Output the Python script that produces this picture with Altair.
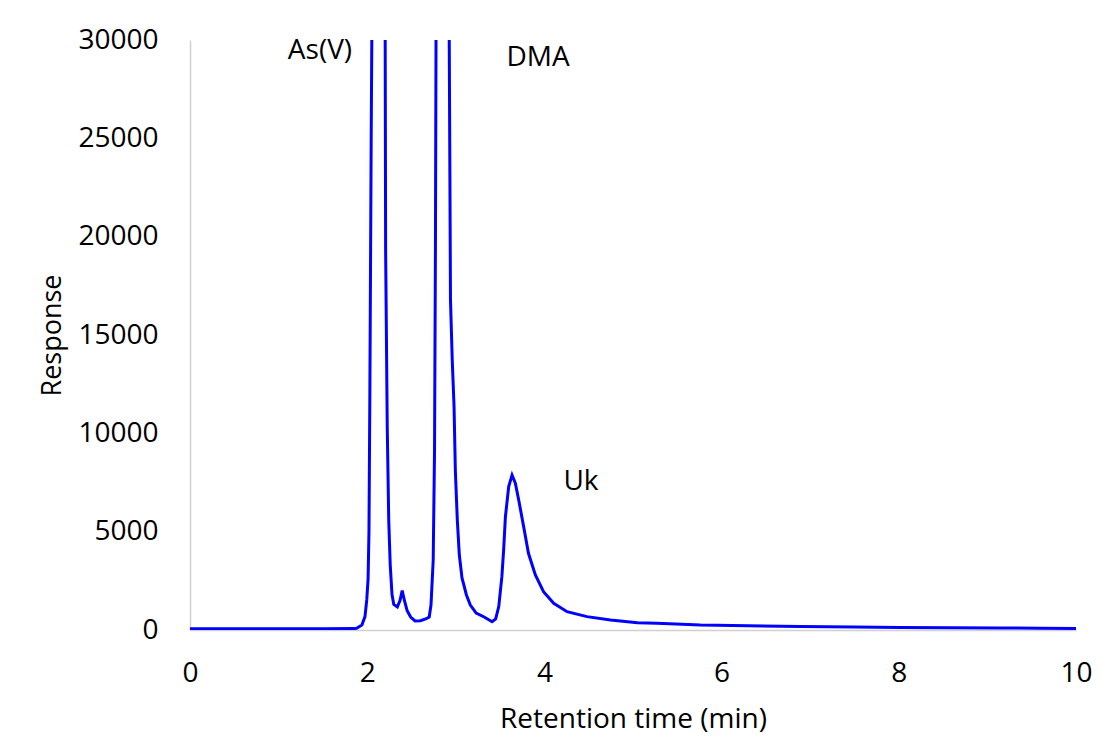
import altair as alt
import pandas as pd

# Retention time (min) and detector response
time_min = [0.0, 0.5, 1.0, 1.5, 1.85, 1.88, 1.94, 1.975, 1.995, 2.01, 2.02, 2.03, 2.045, 2.055, 2.12,
            2.195, 2.203, 2.208, 2.226, 2.243, 2.26, 2.28, 2.30, 2.34, 2.37, 2.395, 2.42, 2.45, 2.49,
            2.54, 2.60, 2.66, 2.70, 2.72, 2.745, 2.76, 2.77, 2.778, 2.85, 2.92, 2.926, 2.94, 2.96,
            2.98, 2.995, 3.017, 3.04, 3.07, 3.12, 3.164, 3.23, 3.32, 3.41, 3.45, 3.485, 3.52, 3.54,
            3.56, 3.597, 3.635, 3.672, 3.71, 3.766, 3.82, 3.898, 3.99, 4.105, 4.256, 4.48, 4.746,
            5.05, 5.27, 5.76, 6.3, 6.89, 7.5, 8.02, 8.6, 9.15, 9.6, 10.0]
response = [60, 60, 60, 60, 70, 90, 250, 680, 1530, 2600, 5000, 12000, 25000, 32000, 70000,
            32000, 30000, 19300, 10400, 5600, 3300, 1800, 1300, 1170, 1500, 2000, 1500, 1000, 660,
            460, 470, 560, 660, 1270, 3560, 9150, 19300, 32000, 70000, 32000, 30000, 16800, 13700,
            11400, 8100, 5600, 3800, 2650, 1780, 1270, 860, 660, 420, 560, 1190, 2710, 4070,
            5760, 7290, 7880, 7470, 6610, 5250, 3900, 2800, 1950, 1360, 930, 680, 510,
            370, 340, 250, 210, 180, 150, 130, 115, 100, 90, 80]

label_text = ["As(V)", "DMA", "Uk"]
label_time = [1.467, 3.928, 4.413]
label_resp = [29440, 29085, 7525]

x_ticks = [0, 2, 4, 6, 8, 10]
y_ticks = [0, 5000, 10000, 15000, 20000, 25000, 30000]

FONT = "Open Sans"

df = pd.DataFrame({"t": time_min, "r": response})
lab = pd.DataFrame({"label": label_text, "t": label_time, "r": label_resp})

x_scale = alt.Scale(domain=[0, 10], nice=False, zero=False)
y_scale = alt.Scale(domain=[0, 30000], nice=False)

line = alt.Chart(df).mark_line(color="#0000ff", strokeWidth=3, clip=True).encode(
    x=alt.X("t:Q", scale=x_scale,
            axis=alt.Axis(title="Retention time (min)", values=x_ticks, format="d", ticks=False,
                          grid=False, labelFlush=False,
                          domainColor="#d0d0d0", domainWidth=1.5, labelPadding=29,
                          labelFontSize=28, labelFont=FONT, labelColor="#000000",
                          titleFontSize=28, titleFont=FONT, titleFontWeight="normal",
                          titleColor="#000000", titleY=89, titleBaseline="middle")),
    y=alt.Y("r:Q", scale=y_scale,
            axis=alt.Axis(title="Response", values=y_ticks, format="d", ticks=False, grid=False,
                          labelFlush=False,
                          domainColor="#d0d0d0", domainWidth=1.5, labelPadding=32,
                          labelFontSize=28, labelFont=FONT, labelColor="#000000",
                          titleFontSize=27, titleFont=FONT, titleFontWeight="normal",
                          titleColor="#000000", titleX=-138, titleBaseline="middle")),
)

texts = alt.Chart(lab).mark_text(fontSize=28, font=FONT, color="#000000",
                                 align="center", baseline="middle").encode(
    x=alt.X("t:Q", scale=x_scale),
    y=alt.Y("r:Q", scale=y_scale),
    text="label:N",
)

chart = alt.layer(line, texts).properties(
    width=886, height=590,
    autosize=alt.AutoSizeParams(type="none"),
    padding={"left": 182, "top": 32, "right": 17, "bottom": 110},
).configure(background="white").configure_view(stroke=None)

chart.save("out.html", embed_options={"renderer": "svg", "actions": False})
